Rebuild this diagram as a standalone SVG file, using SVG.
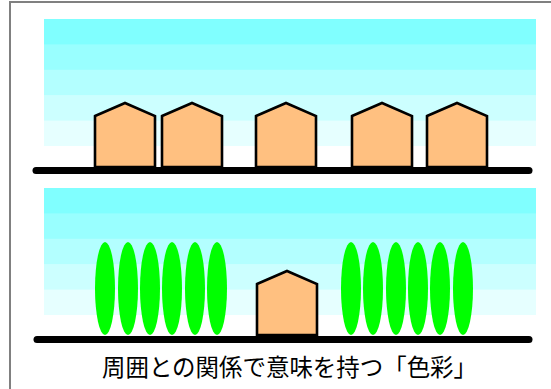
<svg xmlns="http://www.w3.org/2000/svg" width="551" height="389" viewBox="0 0 551 389">
  <style>
    .frame { fill: none; stroke: #808080; stroke-width: 2; }
    .ground { stroke: #000; stroke-width: 7; stroke-linecap: round; }
    .house { fill: #FFC080; stroke: #000; stroke-width: 2.6; stroke-linejoin: miter; }
    .tree { fill: #00FF00; }
    .caption { font-family: "Noto Sans CJK JP", "Noto Sans", sans-serif; font-size: 23.5px; fill: #000; }
  </style>
  <defs>
    <!-- sky made of five horizontal bands, lightening toward the ground -->
    <g id="sky">
      <rect x="44" y="0" width="492" height="26" fill="#80FFFF"/>
      <rect x="44" y="25.4" width="492" height="26" fill="#99FFFF"/>
      <rect x="44" y="50.8" width="492" height="26" fill="#B3FFFF"/>
      <rect x="44" y="76.2" width="492" height="26" fill="#CCFFFF"/>
      <rect x="44" y="101.6" width="492" height="25.4" fill="#E6FFFF"/>
    </g>
    <polygon id="house" points="-30,0 0,-13 30,0 30,51 -30,51"/>
    <ellipse id="tree" cx="0" cy="0" rx="10" ry="46.5"/>
  </defs>

  <rect class="frame" x="10" y="2" width="560" height="400"/>

  <!-- upper scene: a row of houses -->
  <g id="scene-top">
    <use href="#sky" y="19"/>
    <g id="house-1"><use href="#house" class="house" x="125" y="116"/></g>
    <g id="house-2"><use href="#house" class="house" x="192" y="116"/></g>
    <g id="house-3"><use href="#house" class="house" x="286" y="116"/></g>
    <g id="house-4"><use href="#house" class="house" x="382" y="116"/></g>
    <g id="house-5"><use href="#house" class="house" x="457" y="116"/></g>
    <line class="ground" x1="36" y1="170.5" x2="529" y2="170.5"/>
  </g>

  <!-- lower scene: one house between two groups of trees -->
  <g id="scene-bottom">
    <use href="#sky" y="188"/>
    <g id="trees-left" class="tree">
      <use href="#tree" x="105" y="288.5"/>
      <use href="#tree" x="128" y="288.5"/>
      <use href="#tree" x="150" y="288.5"/>
      <use href="#tree" x="172" y="288.5"/>
      <use href="#tree" x="195" y="288.5"/>
      <use href="#tree" x="217" y="288.5"/>
    </g>
    <g id="house-6"><use href="#house" class="house" x="287" y="284"/></g>
    <g id="trees-right" class="tree">
      <use href="#tree" x="351" y="288.5"/>
      <use href="#tree" x="373" y="288.5"/>
      <use href="#tree" x="396" y="288.5"/>
      <use href="#tree" x="418" y="288.5"/>
      <use href="#tree" x="440" y="288.5"/>
      <use href="#tree" x="463" y="288.5"/>
    </g>
    <line class="ground" x1="37" y1="339.5" x2="529" y2="339.5"/>
  </g>

  <text class="caption" x="102" y="376" textLength="375" lengthAdjust="spacingAndGlyphs">周囲との関係で意味を持つ「色彩」</text>
</svg>
